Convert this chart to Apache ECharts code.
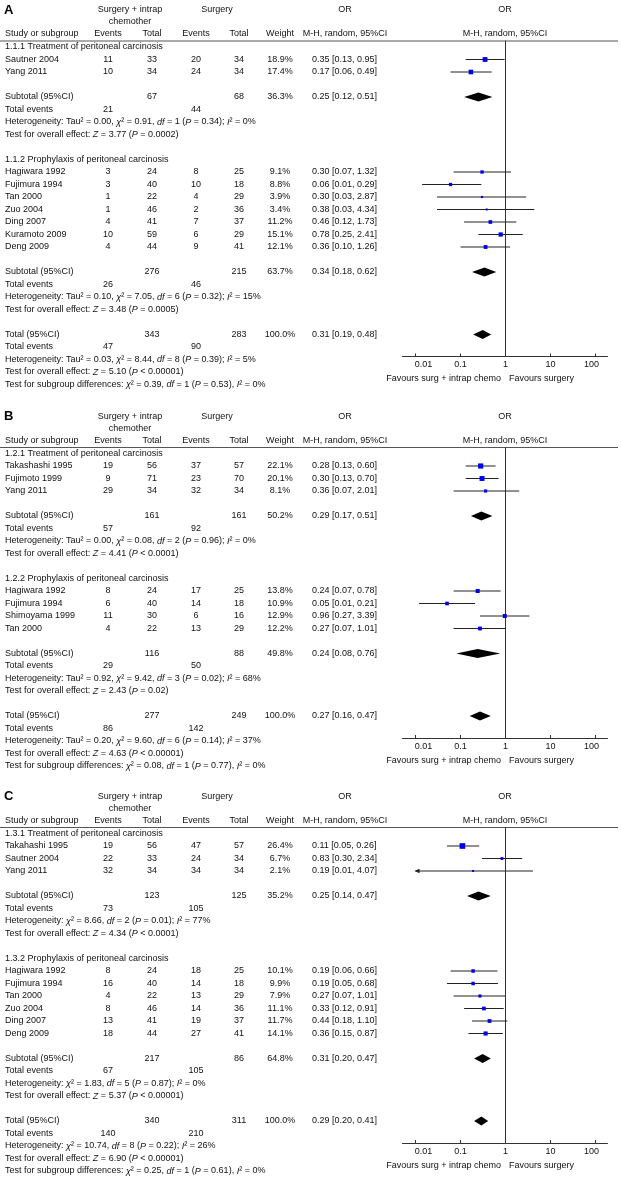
<!DOCTYPE html>
<html><head><meta charset="utf-8">
<script src="https://cdn.jsdelivr.net/npm/echarts@6/dist/echarts.min.js"></script>
<style>html,body{margin:0;padding:0;background:#fff}#c{width:621px;height:1183px}</style>
</head><body><div id="c"></div>
<script>
// ================= DATA =================
const tickValues = [0.01, 0.1, 1, 10, 100];
const favourLeft = 'Favours surg + intrap chemo';
const favourRight = 'Favours surgery';
const panelLabels = ['A', 'B', 'C'];

// study rows: [name, expEvents, expTotal, ctlEvents, ctlTotal, weight %, OR, lower, upper]
// subtotal rows: [expTotal, ctlTotal, weight %, OR, lower, upper, expEvents, ctlEvents]

// ---- Panel A ----
const A_sub1_title = '1.1.1 Treatment of peritoneal carcinosis';
const A_sub1_studies = [
  ['Sautner 2004', 11, 33, 20, 34, 18.9, 0.35, 0.13, 0.95],
  ['Yang 2011', 10, 34, 24, 34, 17.4, 0.17, 0.06, 0.49]
];
const A_sub1_total = [67, 68, 36.3, 0.25, 0.12, 0.51, 21, 44];
const A_sub1_het = 'Heterogeneity: Tau² = 0.00, {i|χ}² = 0.91, {i|df} = 1 ({i|P} = 0.34); {i|I}² = 0%';
const A_sub1_test = 'Test for overall effect: {i|Z} = 3.77 ({i|P} = 0.0002)';
const A_sub2_title = '1.1.2 Prophylaxis of peritoneal carcinosis';
const A_sub2_studies = [
  ['Hagiwara 1992', 3, 24, 8, 25, 9.1, 0.30, 0.07, 1.32],
  ['Fujimura 1994', 3, 40, 10, 18, 8.8, 0.06, 0.014, 0.29],
  ['Tan 2000', 1, 22, 4, 29, 3.9, 0.30, 0.03, 2.87],
  ['Zuo 2004', 1, 46, 2, 36, 3.4, 0.38, 0.03, 4.34],
  ['Ding 2007', 4, 41, 7, 37, 11.2, 0.46, 0.12, 1.73],
  ['Kuramoto 2009', 10, 59, 6, 29, 15.1, 0.78, 0.25, 2.41],
  ['Deng 2009', 4, 44, 9, 41, 12.1, 0.36, 0.10, 1.26]
];
const A_sub2_total = [276, 215, 63.7, 0.34, 0.18, 0.62, 26, 46];
const A_sub2_het = 'Heterogeneity: Tau² = 0.10, {i|χ}² = 7.05, {i|df} = 6 ({i|P} = 0.32); {i|I}² = 15%';
const A_sub2_test = 'Test for overall effect: {i|Z} = 3.48 ({i|P} = 0.0005)';
const A_total = [343, 283, 100.0, 0.31, 0.19, 0.48, 47, 90];
const A_het = 'Heterogeneity: Tau² = 0.03, {i|χ}² = 8.44, {i|df} = 8 ({i|P} = 0.39); {i|I}² = 5%';
const A_test = 'Test for overall effect: {i|Z} = 5.10 ({i|P} < 0.00001)';
const A_subgroup = 'Test for subgroup differences: {i|χ}² = 0.39, {i|df} = 1 ({i|P} = 0.53), {i|I}² = 0%';

// ---- Panel B ----
const B_sub1_title = '1.2.1 Treatment of peritoneal carcinosis';
const B_sub1_studies = [
  ['Takashashi 1995', 19, 56, 37, 57, 22.1, 0.28, 0.13, 0.60],
  ['Fujimoto 1999', 9, 71, 23, 70, 20.1, 0.30, 0.13, 0.70],
  ['Yang 2011', 29, 34, 32, 34, 8.1, 0.36, 0.07, 2.01]
];
const B_sub1_total = [161, 161, 50.2, 0.29, 0.17, 0.51, 57, 92];
const B_sub1_het = 'Heterogeneity: Tau² = 0.00, {i|χ}² = 0.08, {i|df} = 2 ({i|P} = 0.96); {i|I}² = 0%';
const B_sub1_test = 'Test for overall effect: {i|Z} = 4.41 ({i|P} < 0.0001)';
const B_sub2_title = '1.2.2 Prophylaxis of peritoneal carcinosis';
const B_sub2_studies = [
  ['Hagiwara 1992', 8, 24, 17, 25, 13.8, 0.24, 0.07, 0.78],
  ['Fujimura 1994', 6, 40, 14, 18, 10.9, 0.05, 0.012, 0.21],
  ['Shimoyama 1999', 11, 30, 6, 16, 12.9, 0.96, 0.27, 3.39],
  ['Tan 2000', 4, 22, 13, 29, 12.2, 0.27, 0.07, 1.01]
];
const B_sub2_total = [116, 88, 49.8, 0.24, 0.08, 0.76, 29, 50];
const B_sub2_het = 'Heterogeneity: Tau² = 0.92, {i|χ}² = 9.42, {i|df} = 3 ({i|P} = 0.02); {i|I}² = 68%';
const B_sub2_test = 'Test for overall effect: {i|Z} = 2.43 ({i|P} = 0.02)';
const B_total = [277, 249, 100.0, 0.27, 0.16, 0.47, 86, 142];
const B_het = 'Heterogeneity: Tau² = 0.20, {i|χ}² = 9.60, {i|df} = 6 ({i|P} = 0.14); {i|I}² = 37%';
const B_test = 'Test for overall effect: {i|Z} = 4.63 ({i|P} < 0.00001)';
const B_subgroup = 'Test for subgroup differences: {i|χ}² = 0.08, {i|df} = 1 ({i|P} = 0.77), {i|I}² = 0%';

// ---- Panel C ----
const C_sub1_title = '1.3.1 Treatment of peritoneal carcinosis';
const C_sub1_studies = [
  ['Takahashi 1995', 19, 56, 47, 57, 26.4, 0.11, 0.05, 0.26],
  ['Sautner 2004', 22, 33, 24, 34, 6.7, 0.83, 0.30, 2.34],
  ['Yang 2011', 32, 34, 34, 34, 2.1, 0.19, 0.009, 4.07]
];
const C_sub1_total = [123, 125, 35.2, 0.25, 0.14, 0.47, 73, 105];
const C_sub1_het = 'Heterogeneity: {i|χ}² = 8.66, {i|df} = 2 ({i|P} = 0.01); {i|I}² = 77%';
const C_sub1_test = 'Test for overall effect: {i|Z} = 4.34 ({i|P} < 0.0001)';
const C_sub2_title = '1.3.2 Prophylaxis of peritoneal carcinosis';
const C_sub2_studies = [
  ['Hagiwara 1992', 8, 24, 18, 25, 10.1, 0.19, 0.06, 0.66],
  ['Fujimura 1994', 16, 40, 14, 18, 9.9, 0.19, 0.05, 0.68],
  ['Tan 2000', 4, 22, 13, 29, 7.9, 0.27, 0.07, 1.01],
  ['Zuo 2004', 8, 46, 14, 36, 11.1, 0.33, 0.12, 0.91],
  ['Ding 2007', 13, 41, 19, 37, 11.7, 0.44, 0.18, 1.10],
  ['Deng 2009', 18, 44, 27, 41, 14.1, 0.36, 0.15, 0.87]
];
const C_sub2_total = [217, 86, 64.8, 0.31, 0.20, 0.47, 67, 105];
const C_sub2_het = 'Heterogeneity: {i|χ}² = 1.83, {i|df} = 5 ({i|P} = 0.87); {i|I}² = 0%';
const C_sub2_test = 'Test for overall effect: {i|Z} = 5.37 ({i|P} < 0.00001)';
const C_total = [340, 311, 100.0, 0.29, 0.20, 0.41, 140, 210];
const C_het = 'Heterogeneity: {i|χ}² = 10.74, {i|df} = 8 ({i|P} = 0.22); {i|I}² = 26%';
const C_test = 'Test for overall effect: {i|Z} = 6.90 ({i|P} < 0.00001)';
const C_subgroup = 'Test for subgroup differences: {i|χ}² = 0.25, {i|df} = 1 ({i|P} = 0.61), {i|I}² = 0%';

// ================= LAYOUT / BUILD =================
const FONT = '"Liberation Sans", Arial, sans-serif';
const FS = 9;
const RH = 12.5;
const GRID_LEFT = 402.5, GRID_W = 205;
const XMIN = -2.29, XMAX = 2.265;
const RICH = { i: { fontStyle: 'italic', fontSize: FS, fontFamily: FONT, fill: '#111' } };

const panels = [
  { label: panelLabels[0], row0: 47,
    subs: [
      { title: A_sub1_title, studies: A_sub1_studies, total: A_sub1_total, het: A_sub1_het, test: A_sub1_test },
      { title: A_sub2_title, studies: A_sub2_studies, total: A_sub2_total, het: A_sub2_het, test: A_sub2_test }
    ], total: A_total, het: A_het, test: A_test, subgroup: A_subgroup },
  { label: panelLabels[1], row0: 453.5,
    subs: [
      { title: B_sub1_title, studies: B_sub1_studies, total: B_sub1_total, het: B_sub1_het, test: B_sub1_test },
      { title: B_sub2_title, studies: B_sub2_studies, total: B_sub2_total, het: B_sub2_het, test: B_sub2_test }
    ], total: B_total, het: B_het, test: B_test, subgroup: B_subgroup },
  { label: panelLabels[2], row0: 833.5,
    subs: [
      { title: C_sub1_title, studies: C_sub1_studies, total: C_sub1_total, het: C_sub1_het, test: C_sub1_test },
      { title: C_sub2_title, studies: C_sub2_studies, total: C_sub2_total, het: C_sub2_het, test: C_sub2_test }
    ], total: C_total, het: C_het, test: C_test, subgroup: C_subgroup }
];

const graphics = [];
function txt(x, y, s, align, extra) {
  const a = align || 'left';
  graphics.push({
    type: 'text', x: x, y: y, silent: true, z: 10,
    style: Object.assign({
      text: String(s), align: a, textAlign: a, verticalAlign: 'middle', textVerticalAlign: 'middle',
      fontSize: FS, fontFamily: FONT, fill: '#111', rich: RICH
    }, extra || {})
  });
}
function fmtOR(or, lo, hi) { return or.toFixed(2) + ' [' + lo.toFixed(2) + ', ' + hi.toFixed(2) + ']'; }

const grids = [], xAxes = [], yAxes = [], series = [];

panels.forEach(function (p, pi) {
  const y = function (r) { return p.row0 + r * RH; };
  // headers
  txt(4, p.row0 - 37, p.label, 'left', { fontSize: 13, fontWeight: 'bold', fill: '#000' });
  txt(130, p.row0 - 37, 'Surgery + intrap', 'center');
  txt(130, p.row0 - 25.3, 'chemother', 'center');
  txt(217, p.row0 - 37, 'Surgery', 'center');
  txt(345, p.row0 - 37, 'OR', 'center');
  txt(505, p.row0 - 37, 'OR', 'center');
  const hy = p.row0 - 13;
  txt(5, hy, 'Study or subgroup');
  txt(108, hy, 'Events', 'center');
  txt(152, hy, 'Total', 'center');
  txt(196, hy, 'Events', 'center');
  txt(239, hy, 'Total', 'center');
  txt(280, hy, 'Weight', 'center');
  txt(345, hy, 'M-H, random, 95%CI', 'center');
  txt(505, hy, 'M-H, random, 95%CI', 'center');
  graphics.push({ type: 'line', silent: true, shape: { x1: 0, y1: p.row0 - 6, x2: 618, y2: p.row0 - 6 },
    style: { stroke: '#555', lineWidth: 1.2 } });

  const marks = [];
  let r = 0;
  function summaryRows(label, tot) {
    const [t1, t2, w, or, lo, hi, e1, e2] = tot;
    txt(5, y(r), label);
    txt(152, y(r), t1, 'center');
    txt(239, y(r), t2, 'center');
    txt(280, y(r), w.toFixed(1) + '%', 'center');
    txt(312, y(r), fmtOR(or, lo, hi));
    marks.push([Math.log10(or), r, Math.log10(lo), Math.log10(hi), w, 1]);
    const row = r;
    r++;
    txt(5, y(r), 'Total events');
    txt(108, y(r), e1, 'center');
    txt(196, y(r), e2, 'center');
    r++;
    return row;
  }
  p.subs.forEach(function (sub) {
    txt(5, y(r), sub.title); r++;
    sub.studies.forEach(function (s) {
      const [name, e1, t1, e2, t2, w, or, lo, hi] = s;
      txt(5, y(r), name);
      txt(108, y(r), e1, 'center');
      txt(152, y(r), t1, 'center');
      txt(196, y(r), e2, 'center');
      txt(239, y(r), t2, 'center');
      txt(280, y(r), w.toFixed(1) + '%', 'center');
      txt(312, y(r), fmtOR(or, lo, hi));
      marks.push([Math.log10(or), r, Math.log10(lo), Math.log10(hi), w, 0]);
      r++;
    });
    r++;
    summaryRows('Subtotal (95%CI)', sub.total);
    txt(5, y(r), sub.het); r++;
    txt(5, y(r), sub.test); r++;
    r++;
  });
  const totalRow = summaryRows('Total (95%CI)', p.total);
  txt(5, y(r), p.het); r++;
  txt(5, y(r), p.test); r++;
  txt(5, y(r), p.subgroup); r++;

  const axisRow = totalRow + 22 / RH;
  const axisY = y(axisRow);
  txt(501, axisY + 22.5, favourLeft, 'right');
  txt(509, axisY + 22.5, favourRight, 'left');

  grids.push({ left: GRID_LEFT, width: GRID_W, top: p.row0 - 6, height: axisY - (p.row0 - 6) });
  const tickLogs = tickValues.map(function (v) { return Math.log10(v); });
  xAxes.push({
    gridIndex: pi, type: 'value', min: XMIN, max: XMAX,
    axisLine: { show: true, onZero: false, lineStyle: { color: '#333', width: 1 } },
    axisTick: { show: true, inside: true, length: 3, customValues: tickLogs, lineStyle: { color: '#333' } },
    axisLabel: {
      customValues: tickLogs, margin: 4, fontSize: FS, fontFamily: FONT, color: '#111',
      formatter: function (v) {
        const i = tickLogs.findIndex(function (t) { return Math.abs(t - v) < 1e-6; });
        const s = String(tickValues[i]);
        if (i === 0) return '{l|' + s + '}';
        if (i === tickValues.length - 1) return '{r|' + s + '}';
        return s;
      },
      rich: { l: { padding: [0, 0, 0, 16], fontSize: FS, fontFamily: FONT, color: '#111' },
              r: { padding: [0, 8, 0, 0], fontSize: FS, fontFamily: FONT, color: '#111' } }
    },
    splitLine: { show: false }
  });
  yAxes.push({
    gridIndex: pi, type: 'value', inverse: true, min: -6 / RH, max: axisRow,
    axisLine: { show: true, onZero: true, lineStyle: { color: '#333', width: 1 } },
    axisTick: { show: false }, axisLabel: { show: false }, splitLine: { show: false }
  });
  series.push({
    type: 'custom', xAxisIndex: pi, yAxisIndex: pi, data: marks,
    encode: { x: 0, y: 1 }, z: 5,
    renderItem: function (params, api) {
      const x = api.value(0), row = api.value(1), lo = api.value(2), hi = api.value(3), w = api.value(4), kind = api.value(5);
      const c = api.coord([x, row]);
      const loC = api.coord([Math.max(lo, -2), row]);
      const hiC = api.coord([Math.min(hi, 2), row]);
      if (kind === 1) {
        return { type: 'polygon', shape: { points: [[loC[0], c[1]], [c[0], c[1] - 4.5], [hiC[0], c[1]], [c[0], c[1] + 4.5]] },
          style: { fill: '#000' } };
      }
      const children = [{ type: 'line', shape: { x1: loC[0], y1: c[1], x2: hiC[0], y2: c[1] }, style: { stroke: '#222', lineWidth: 1 } }];
      if (lo < -2) {
        children.push({ type: 'polygon', shape: { points: [[loC[0] - 1, c[1]], [loC[0] + 4, c[1] - 2.2], [loC[0] + 4, c[1] + 2.2]] }, style: { fill: '#222' } });
      }
      const s = Math.max(2, 1.1 * Math.sqrt(w));
      children.push({ type: 'rect', shape: { x: c[0] - s / 2, y: c[1] - s / 2, width: s, height: s }, style: { fill: '#0000ee' } });
      return { type: 'group', children: children };
    }
  });
});

const chart = echarts.init(document.getElementById('c'), null, { renderer: 'canvas' });
chart.setOption({
  animation: false,
  backgroundColor: '#fff',
  grid: grids, xAxis: xAxes, yAxis: yAxes, series: series,
  graphic: graphics
});
</script>
</body></html>
